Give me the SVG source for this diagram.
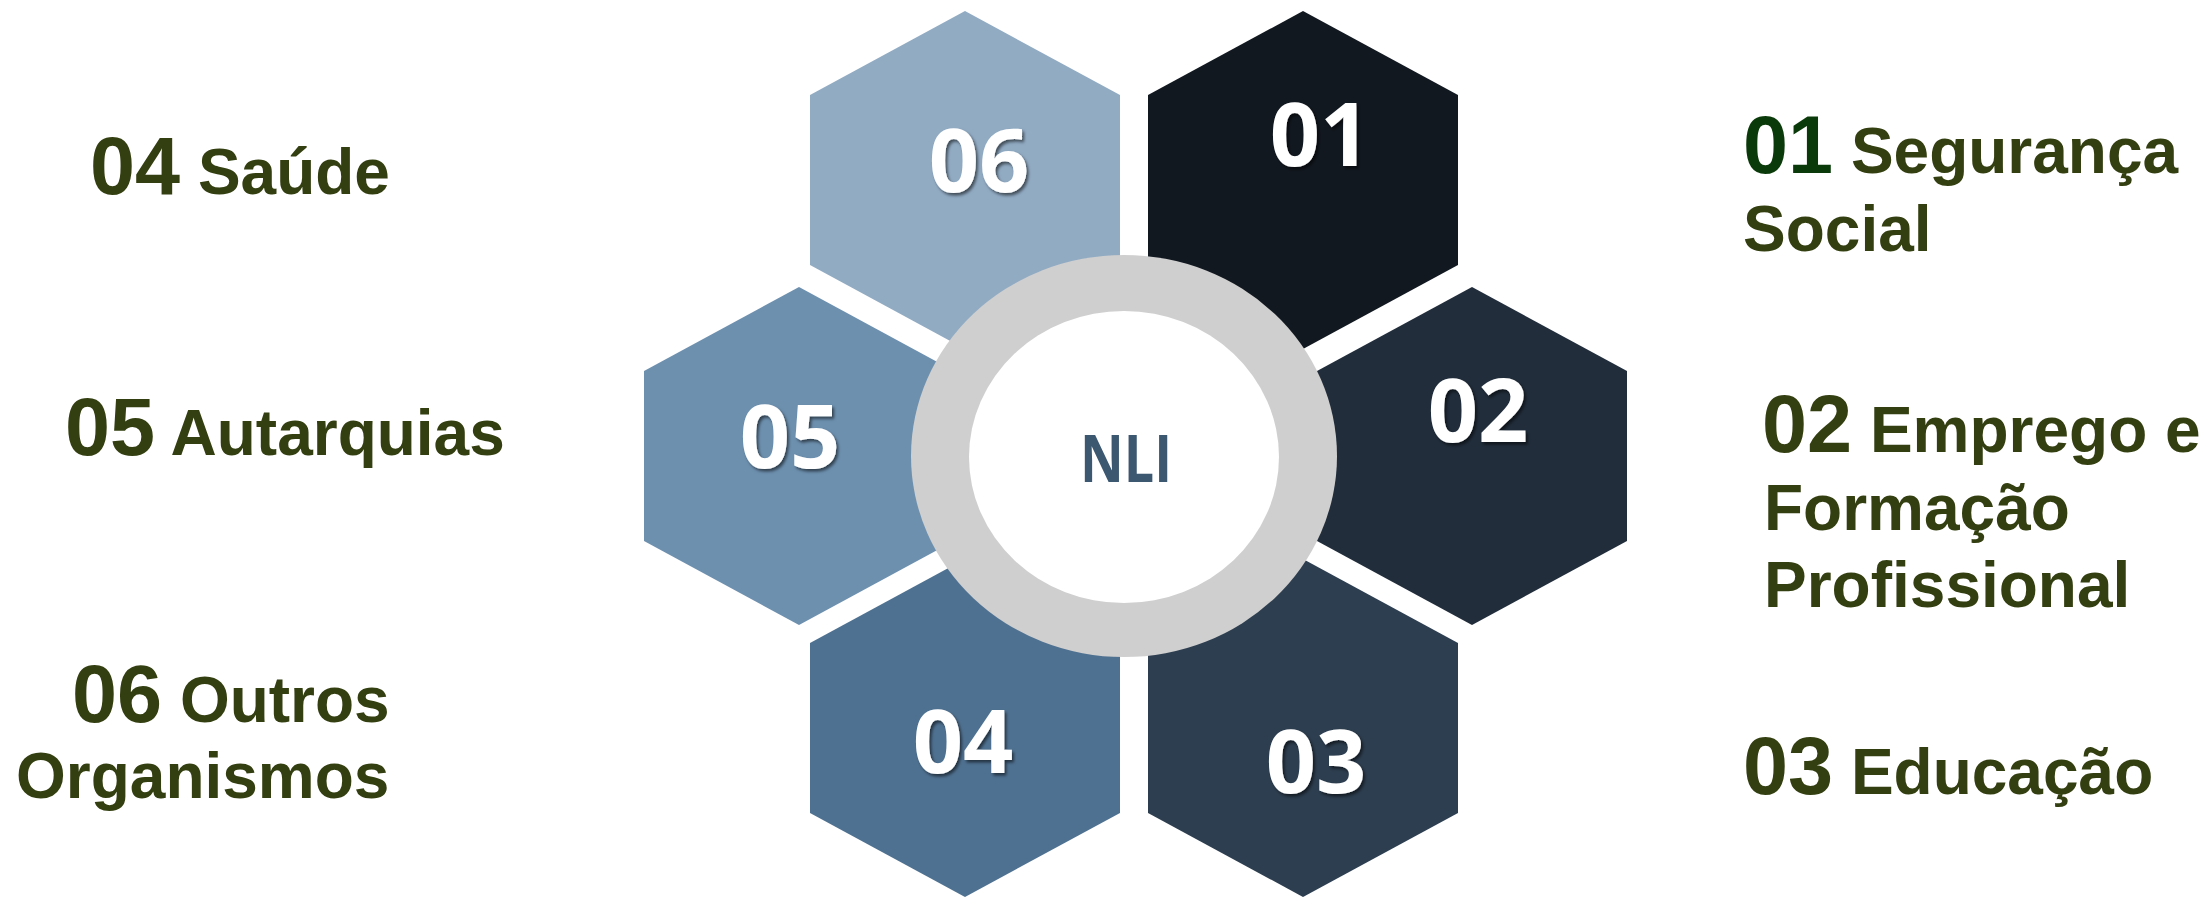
<svg xmlns="http://www.w3.org/2000/svg" width="2208" height="898" viewBox="0 0 2208 898">
  <defs>
    <filter id="sh" x="-20%" y="-20%" width="140%" height="140%">
      <feDropShadow dx="2" dy="2.5" stdDeviation="1.5" flood-color="#000" flood-opacity="0.55"/>
    </filter>
    <style>
      .num { font-family: "Open Sans", "Noto Sans", sans-serif; font-weight: 700; font-size: 88px; fill: #ffffff; text-anchor: middle; filter: url(#sh); }
      .lbl { font-family: "Liberation Sans", Arial, sans-serif; font-weight: 700; fill: #333F10; }
      .big { font-size: 81px; }
      .wrd { font-size: 64px; }
      .nli { font-family: "Open Sans", "Noto Sans", sans-serif; font-weight: 700; font-size: 67px; fill: #3C5770; text-anchor: middle; }
    </style>
  </defs>
  <rect width="2208" height="898" fill="#ffffff"/>

  <g id="hex06">
    <polygon points="965,11 1120,95 1120,265 965,349 810,265 810,95" fill="#91ABC3"/>
    <text class="num" x="979" y="192">06</text>
  </g>
  <g id="hex01">
    <polygon points="1303,11 1458,95 1458,265 1303,349 1148,265 1148,95" fill="#121820"/>
    <text class="num" x="1320" y="166">01</text>
  </g>
  <g id="hex05">
    <polygon points="799,287 954,371 954,541 799,625 644,541 644,371" fill="#6D90AF"/>
    <text class="num" x="790" y="468">05</text>
  </g>
  <g id="hex02">
    <polygon points="1472,287 1627,371 1627,541 1472,625 1317,541 1317,371" fill="#212D3B"/>
    <text class="num" x="1478" y="442">02</text>
  </g>
  <g id="hex04">
    <polygon points="965,559 1120,643 1120,813 965,897 810,813 810,643" fill="#4F7191"/>
    <text class="num" x="963" y="773">04</text>
  </g>
  <g id="hex03">
    <polygon points="1303,559 1458,643 1458,813 1303,897 1148,813 1148,643" fill="#2D3E50"/>
    <text class="num" x="1316" y="793">03</text>
  </g>

  <g id="center">
    <ellipse cx="1124" cy="456" rx="213" ry="201" fill="#CFCFCF"/>
    <ellipse cx="1124" cy="457" rx="155" ry="146" fill="#ffffff"/>
    <text class="nli" x="1126" y="482" textLength="92" lengthAdjust="spacingAndGlyphs">NLI</text>
  </g>

  <g id="connectors"/>

  <g id="label04">
    <text class="lbl" x="90" y="194"><tspan class="big">04</tspan><tspan class="wrd"> Saúde</tspan></text>
  </g>
  <g id="label05">
    <text class="lbl" x="65" y="455"><tspan class="big">05</tspan><tspan class="wrd"> Autarquias</tspan></text>
  </g>
  <g id="label06">
    <text class="lbl" x="72" y="722"><tspan class="big">06</tspan><tspan class="wrd"> Outros</tspan></text>
    <text class="lbl wrd" x="16" y="798">Organismos</text>
  </g>
  <g id="label01">
    <text class="lbl" x="1743" y="173"><tspan class="big" fill="#0A3A0A">01</tspan><tspan class="wrd">  Segurança</tspan></text>
    <text class="lbl wrd" x="1743" y="251">Social</text>
  </g>
  <g id="label02">
    <text class="lbl" x="1762" y="452"><tspan class="big">02</tspan><tspan class="wrd"> Emprego e</tspan></text>
    <text class="lbl wrd" x="1764" y="530">Formação</text>
    <text class="lbl wrd" x="1764" y="607">Profissional</text>
  </g>
  <g id="label03">
    <text class="lbl" x="1743" y="794"><tspan class="big">03</tspan><tspan class="wrd"> Educação</tspan></text>
  </g>
</svg>
